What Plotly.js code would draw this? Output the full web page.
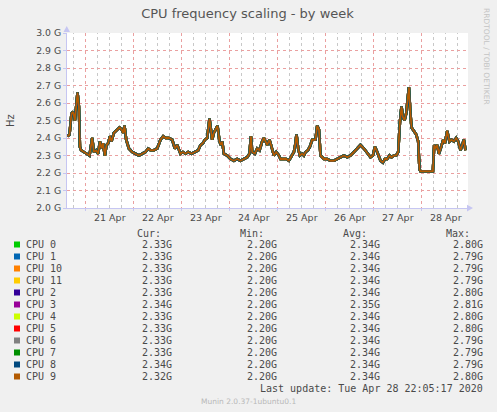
<!DOCTYPE html>
<html>
<head>
<meta charset="utf-8">
<script src="https://cdn.plot.ly/plotly-3.0.1.min.js"></script>
<style>
html,body{margin:0;padding:0;background:#f0f0f0;}
#chart{width:497px;height:412px;}
</style>
</head>
<body>
<div id="chart"></div>
<script>
// ---- data ----
// time of each sample, in hours after 2020-04-21 00:00
const hours = [
  -9, -8, -7, -6.2, -5.3, -4.7, -4, -3.3, -2.8, -2.2, -0.8, 0.85, 2, 3.35, 4.2, 5.35, 6.35, 7.2, 8, 8.7,
  9.7, 10.5, 11.35, 12.2, 13, 14.2, 15.85, 17, 18, 18.85, 19.5, 20.35, 21.7, 23.35, 25, 26.7, 28.35, 30, 31.35, 32.5,
  34.2, 35.85, 37.5, 38.85, 40, 41.7, 43.35, 44.7, 45.85, 46.7, 47.5, 48.7, 50, 51.35, 53, 54.7, 56.35, 57.5, 58.7, 59.7,
  60.85, 62, 62.7, 63.35, 64.2, 65, 66, 67, 67.7, 68.35, 69.2, 70.85, 72.5, 74.2, 75.85, 77.5, 79.2, 80.85, 82, 82.7,
  83.35, 84.7, 85.85, 87, 88.35, 89.2, 90.85, 92, 93, 94.2, 95.35, 96.7, 97.5, 98.7, 100.35, 101.7, 103, 104.2, 104.85, 105.5,
  106.35, 107.2, 108.35, 109.2, 110, 111.2, 112.2, 113.35, 114.2, 115, 115.85, 116.7, 117.5, 119.2, 120.85, 122.5, 124.2, 125.85, 127.5, 129.2,
  130.85, 132.5, 134.2, 135.85, 137.5, 139.2, 140.35, 141.35, 142.5, 143.7, 144.7, 145.5, 146.35, 147.5, 148.7, 149.7, 150.85, 152, 153, 154.2,
  155.35, 156.35, 157.2, 158, 158.7, 159.5, 160.35, 161.2, 161.7, 162.35, 163, 164.2, 165.35, 166.35, 167, 167.5, 170, 172.5, 173.7, 174.35,
  175, 175.85, 176.7, 177.85, 178.85, 179.7, 180.85, 182, 183, 184.2, 185.35, 186.35, 187.5, 188.35, 189.2, 190
];
// CPU frequency in GHz (all twelve cores run together and overlap in the picture)
const freqGHz = [
  2.41, 2.42, 2.54, 2.55, 2.50, 2.58, 2.66, 2.58, 2.35, 2.33, 2.32, 2.31, 2.30, 2.40, 2.32, 2.33, 2.31, 2.38, 2.34, 2.37,
  2.30, 2.36, 2.37, 2.41, 2.38, 2.43, 2.45, 2.46, 2.45, 2.43, 2.47, 2.39, 2.34, 2.32, 2.31, 2.30, 2.31, 2.32, 2.34, 2.33,
  2.33, 2.34, 2.39, 2.41, 2.40, 2.40, 2.39, 2.34, 2.36, 2.33, 2.31, 2.32, 2.31, 2.32, 2.31, 2.32, 2.33, 2.36, 2.37, 2.39,
  2.40, 2.51, 2.43, 2.39, 2.43, 2.45, 2.47, 2.38, 2.36, 2.38, 2.31, 2.30, 2.28, 2.27, 2.28, 2.27, 2.28, 2.29, 2.31, 2.41,
  2.32, 2.31, 2.34, 2.33, 2.38, 2.40, 2.36, 2.39, 2.35, 2.30, 2.32, 2.30, 2.28, 2.28, 2.28, 2.27, 2.30, 2.32, 2.36, 2.42,
  2.34, 2.30, 2.31, 2.30, 2.32, 2.33, 2.35, 2.39, 2.39, 2.39, 2.47, 2.45, 2.30, 2.28, 2.28, 2.27, 2.27, 2.28, 2.29, 2.30,
  2.29, 2.30, 2.32, 2.34, 2.36, 2.34, 2.32, 2.31, 2.29, 2.30, 2.35, 2.33, 2.30, 2.27, 2.26, 2.28, 2.28, 2.30, 2.29, 2.30,
  2.30, 2.32, 2.49, 2.58, 2.52, 2.50, 2.54, 2.64, 2.69, 2.56, 2.46, 2.44, 2.42, 2.38, 2.22, 2.21, 2.21, 2.21, 2.21, 2.36,
  2.34, 2.36, 2.31, 2.35, 2.39, 2.37, 2.44, 2.38, 2.39, 2.38, 2.40, 2.38, 2.33, 2.36, 2.39, 2.33
];
const cpuNames  = ['CPU 0','CPU 1','CPU 10','CPU 11','CPU 2','CPU 3','CPU 4','CPU 5','CPU 6','CPU 7','CPU 8','CPU 9'];
const cpuColors = ['#00cc00','#0066b3','#ff8000','#ffcc00','#330099','#990099','#ccff00','#ff0000','#808080','#008f00','#00487d','#b35a00'];
const curVals = ['2.33G','2.33G','2.33G','2.33G','2.33G','2.34G','2.33G','2.33G','2.33G','2.33G','2.34G','2.32G'];
const minVals = ['2.20G','2.20G','2.20G','2.20G','2.20G','2.20G','2.20G','2.20G','2.20G','2.20G','2.20G','2.20G'];
const avgVals = ['2.34G','2.34G','2.34G','2.34G','2.34G','2.35G','2.34G','2.34G','2.34G','2.34G','2.34G','2.34G'];
const maxVals = ['2.80G','2.79G','2.79G','2.79G','2.80G','2.81G','2.80G','2.80G','2.79G','2.79G','2.79G','2.80G'];
const yTickVals = [2.0, 2.1, 2.2, 2.3, 2.4, 2.5, 2.6, 2.7, 2.8, 2.9, 3.0];
const yTickText = ['2.0 G','2.1 G','2.2 G','2.3 G','2.4 G','2.5 G','2.6 G','2.7 G','2.8 G','2.9 G','3.0 G'];
const dayTickText = ['21 Apr','22 Apr','23 Apr','24 Apr','25 Apr','26 Apr','27 Apr','28 Apr'];
const rangeHours = [-9.25, 191.25];
const titleText = 'CPU frequency scaling - by week';
const lastUpdate = 'Last update: Tue Apr 28 22:05:17 2020';
const footer = 'Munin 2.0.37-1ubuntu0.1';
const sideText = 'RRDTOOL / TOBI OETIKER';

// ---- helpers ----
const BASE = Date.UTC(2020, 3, 21, 0, 0, 0);
function hToStr(h){ return new Date(BASE + h*3600000).toISOString().replace('T',' ').slice(0,19); }
const xDates = hours.map(hToStr);
const xRange = [hToStr(rangeHours[0]), hToStr(rangeHours[1])];
const midnights = dayTickText.map((t, i) => hToStr(24*i));
const noons = dayTickText.map((t, i) => hToStr(24*i + 12));

// plot area in pixels
const L = 67, R = 468, T = 33, B = 208;
const W = R - L, H = B - T;
const px = x => (x - L) / W;
const py = y => (B - y) / H;

const MONO = 'DejaVu Sans Mono';
const SANS = 'DejaVu Sans';
const TXT = '#4a4a4a';
const MAJ = '#eaa0a0';
const MIN = '#c8c8c8';
const AX = '#c6c6f2';

// ---- traces ----
const traces = cpuNames.map((name, i) => ({
  type: 'scatter', mode: 'lines', name: name,
  x: xDates, y: freqGHz, xaxis: 'x', yaxis: 'y',
  line: {color: cpuColors[i], width: i === cpuNames.length - 1 ? 1.8 : 2.6},
  hoverinfo: 'skip'
}));

const ann = [];
const shapes = [];

// minor 6-hour grid (not at midnight), between the axis grid and the traces
for (let h = -6; h < rangeHours[1]; h += 6) {
  if (((h % 24) + 24) % 24 === 0) continue;
  shapes.push({type:'line', layer:'between', xref:'x', yref:'paper',
    x0: hToStr(h), x1: hToStr(h), y0: 0, y1: 1,
    line:{color: MIN, width: 1, dash: 'dot'}});
}

// day labels, centred on noon of each day
noons.forEach((t, i) => {
  ann.push({xref:'x', yref:'paper', x: t, y: py(217.5), text: dayTickText[i],
    showarrow:false, xanchor:'center', yanchor:'middle', borderpad:0,
    font:{family: SANS, size: 9.5, color: TXT}});
});

// ---- legend table (annotations + colour squares) ----
function txt(x, y, text, anchor, opts){
  ann.push(Object.assign({
    xref: 'paper', yref: 'paper', x: px(x), y: py(y), text: text,
    showarrow: false, xanchor: anchor, yanchor: 'middle',
    borderpad: 0, borderwidth: 0,
    font: {family: MONO, size: 10, color: TXT}
  }, opts || {}));
}
const headY = 233.5, row0 = 244.5, rowH = 12;
txt(160.5, headY, 'Cur:', 'right');
txt(263.5, headY, 'Min:', 'right');
txt(367, headY, 'Avg:', 'right');
txt(470.5, headY, 'Max:', 'right');
cpuNames.forEach((name, i) => {
  const y = row0 + i*rowH;
  shapes.push({type:'rect', xref:'paper', yref:'paper',
    x0: px(14), x1: px(20), y0: py(y+3), y1: py(y-3),
    line:{width:0}, fillcolor: cpuColors[i]});
  txt(26, y, name, 'left');
  txt(172, y, curVals[i], 'right');
  txt(276.5, y, minVals[i], 'right');
  txt(379.5, y, avgVals[i], 'right');
  txt(483, y, maxVals[i], 'right');
});
txt(483, row0 + 12*rowH, lastUpdate, 'right');
txt(248, 401.5, footer, 'center', {font:{family: SANS, size: 7.5, color: '#b8b8b8'}});
// side text
ann.push({xref:'paper', yref:'paper', x: px(487), y: py(56), text: sideText, textangle: 90,
  showarrow:false, xanchor:'center', yanchor:'middle', borderpad:0,
  font:{family: SANS, size: 7.5, color:'#c4c4c4'}});
// y axis title
ann.push({xref:'paper', yref:'paper', x: px(10), y: py(121), text: 'Hz', textangle: -90,
  showarrow:false, xanchor:'center', yanchor:'middle', borderpad:0,
  font:{family: SANS, size: 10, color: TXT}});

// axis arrows
shapes.push({type:'path', xref:'paper', yref:'paper',
  path: `M ${px(63.5)},${py(32)} L ${px(70)},${py(32)} L ${px(66.7)},${py(26)} Z`,
  fillcolor: AX, line:{width:0}});
shapes.push({type:'path', xref:'paper', yref:'paper',
  path: `M ${px(467)},${py(204.8)} L ${px(467)},${py(211.4)} L ${px(473)},${py(208.1)} Z`,
  fillcolor: AX, line:{width:0}});

const layout = {
  width: 497, height: 412,
  paper_bgcolor: '#f0f0f0', plot_bgcolor: '#ffffff',
  margin: {l: L, r: 497 - R, t: T, b: 412 - B, pad: 0},
  showlegend: false,
  title: {text: titleText, x: 0.498, xanchor: 'center', y: 1 - 13.5/412, yanchor: 'middle',
          font: {family: SANS, size: 13, color: '#555555'}},
  xaxis: {
    type: 'date', range: xRange, anchor: 'y',
    tickmode: 'array', tickvals: midnights, showticklabels: false,
    showgrid: true, gridcolor: MAJ, griddash: 'dot', gridwidth: 1,
    showline: true, linecolor: AX, linewidth: 1,
    ticks: 'outside', ticklen: 2, tickcolor: AX,
    zeroline: false, fixedrange: true
  },
  yaxis: {
    range: [2.0, 3.0], anchor: 'x', tickvals: yTickVals, ticktext: yTickText,
    showgrid: true, gridcolor: MAJ, griddash: 'dot', gridwidth: 1,
    showline: true, linecolor: AX, linewidth: 1,
    ticks: 'outside', ticklen: 3, tickcolor: AX,
    tickfont: {family: SANS, size: 9.3, color: TXT},
    zeroline: false, fixedrange: true
  },
  annotations: ann,
  shapes: shapes
};

Plotly.newPlot('chart', traces, layout, {staticPlot: true, displayModeBar: false});
</script>
</body>
</html>
